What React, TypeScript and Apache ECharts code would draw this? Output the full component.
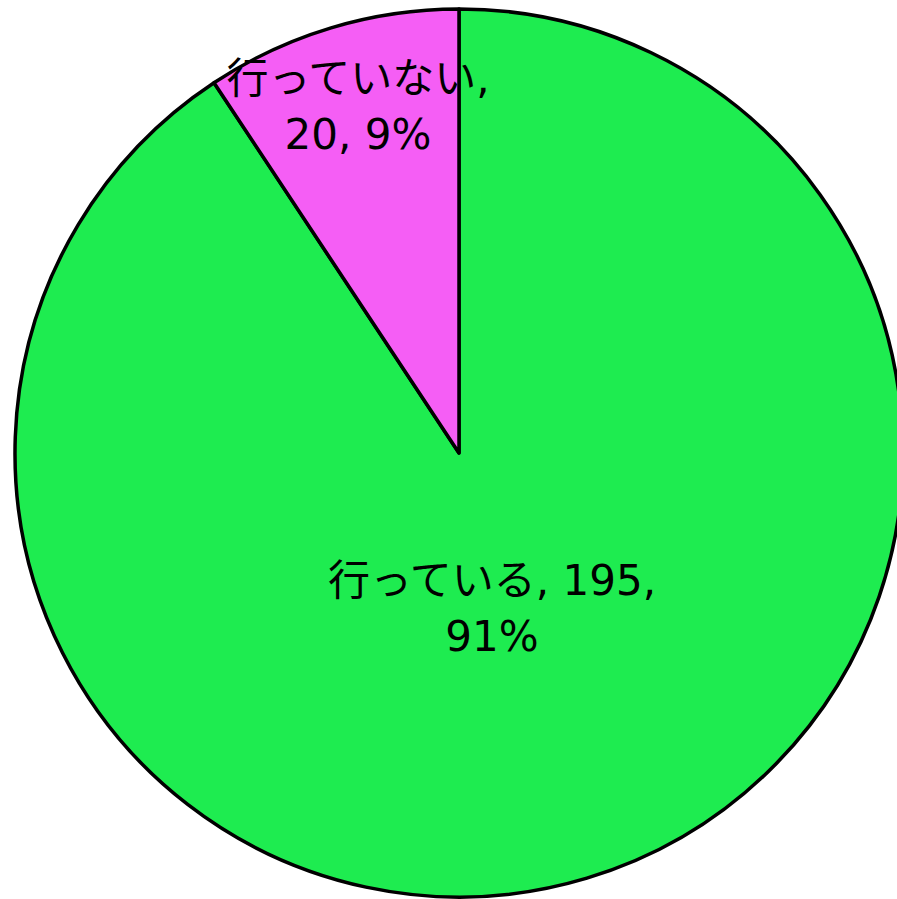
import React, { useEffect, useRef } from "react";
import * as echarts from "echarts";

const categories = ["行っている", "行っていない"];
const values = [195, 20];
const colors = ["#1EEC50", "#F55EF5"];
// which comma-separated part ends the first line of each label
const lineBreakAfter = [2, 1];
// label centre positions (px)
const labelPos = [
  [492, 608],
  [358, 106],
];

export default function App() {
  const ref = useRef<HTMLDivElement>(null);
  useEffect(() => {
    if (!ref.current) return;
    const chart = echarts.init(ref.current, undefined, { renderer: "svg" });
    chart.setOption({
      animation: false,
      backgroundColor: "#ffffff",
      series: [
        {
          type: "pie",
          center: [459, 453],
          radius: [0, 444],
          startAngle: 90,
          clockwise: true,
          percentPrecision: 0,
          avoidLabelOverlap: false,
          data: categories.map((c, i) => ({
            name: c,
            value: values[i],
            itemStyle: { color: colors[i] },
          })),
          itemStyle: { borderColor: "#000000", borderWidth: 3.5 },
          label: {
            show: true,
            position: "inside",
            color: "#000000",
            fontSize: 42,
            lineHeight: 56,
            fontFamily: "'DejaVu Sans', 'Noto Sans CJK JP', sans-serif",
            align: "center",
            verticalAlign: "middle",
            formatter: (p: any) => {
              const parts = [p.name, String(p.value), Math.round(p.percent) + "%"];
              const k = lineBreakAfter[p.dataIndex];
              return parts.slice(0, k).join(", ") + ",\n" + parts.slice(k).join(", ");
            },
          },
          labelLine: { show: false },
          labelLayout: (p: any) => ({
            x: labelPos[p.dataIndex][0],
            y: labelPos[p.dataIndex][1],
          }),
          emphasis: { disabled: true },
        },
      ],
    });
    return () => chart.dispose();
  }, []);
  return (
    <div
      ref={ref}
      style={{ position: "fixed", left: 0, top: 0, width: 897, height: 899 }}
    />
  );
}
